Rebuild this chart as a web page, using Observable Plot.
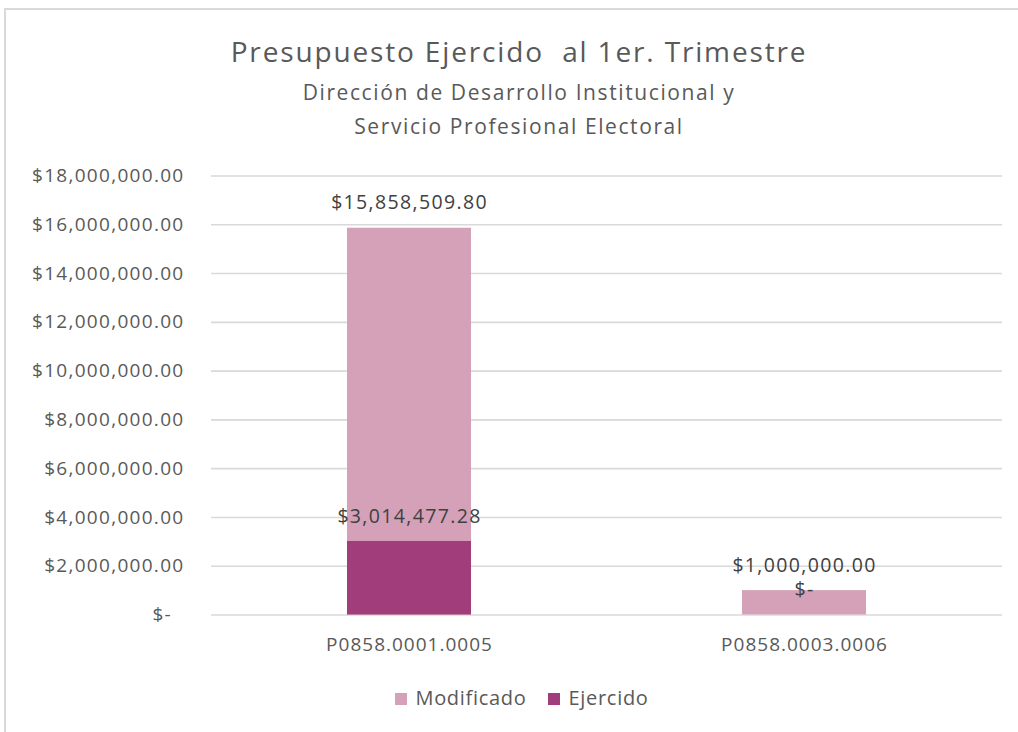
<!DOCTYPE html>
<html>
<head>
<meta charset="utf-8">
<script src="https://cdn.jsdelivr.net/npm/d3@7"></script>
<script src="https://cdn.jsdelivr.net/npm/@observablehq/plot@0.6"></script>
<style>
  html, body { margin: 0; padding: 0; background: #fff; }
  body { width: 1018px; height: 732px; position: relative; overflow: hidden; font-family: "Open Sans", Lato, sans-serif; color: #595959; }
  #frame { position: absolute; left: 4px; top: 8px; width: 1030px; height: 740px; border-left: 2px solid #D9D9D9; border-top: 2px solid #D9D9D9; }
  #chart { position: absolute; left: 0; top: 0; }
  .t { position: absolute; left: 0; width: 1038px; text-align: center; white-space: nowrap; line-height: 1; }
  #title { top: 37px; font-size: 28px; letter-spacing: 1.85px; }
  #sub1 { top: 82px; font-size: 21px; letter-spacing: 1.6px; }
  #sub2 { top: 116px; font-size: 21px; letter-spacing: 1.6px; }
  #legend { position: absolute; top: 686px; left: 0; width: 1044px; display: flex; justify-content: center; gap: 22px; font-size: 20px; line-height: 24px; letter-spacing: 0.7px; }
  #legend span.sw { display: inline-block; width: 12px; height: 12px; margin-right: 8px; vertical-align: 0px; }
  g[aria-label="y-axis tick label"] text { letter-spacing: 1.3px; }
  g[aria-label="x-axis tick label"] text { letter-spacing: 1px; }
  g[aria-label="text"] text { letter-spacing: 1.35px; }
</style>
</head>
<body>
<div id="frame"></div>
<div id="chart"></div>
<div class="t" id="title">Presupuesto Ejercido&nbsp; al 1er. Trimestre</div>
<div class="t" id="sub1">Dirección de Desarrollo Institucional y</div>
<div class="t" id="sub2">Servicio Profesional Electoral</div>
<div id="legend"></div>
<script>
const categories = ["P0858.0001.0005", "P0858.0003.0006"];
const modificado = [15858509.80, 1000000.00];
const ejercido = [3014477.28, 0];
const seriesNames = ["Modificado", "Ejercido"];
const seriesColors = ["#D4A1B8", "#A23D7C"];
const yTicks = [0, 2000000, 4000000, 6000000, 8000000, 10000000, 12000000, 14000000, 16000000, 18000000];

const rows = [];
categories.forEach((c, i) => {
  rows.push({cat: c, serie: seriesNames[0], value: modificado[i]});
  rows.push({cat: c, serie: seriesNames[1], value: ejercido[i]});
});

const money = v => v === 0 ? "$-" : "$" + d3.format(",.2f")(v);
const font = "'Open Sans', Lato, sans-serif";

const chart = Plot.plot({
  width: 1018,
  height: 732,
  marginLeft: 211,
  marginRight: 16,
  marginTop: 175.5,
  marginBottom: 117.5,
  style: {fontFamily: font, color: "#595959", background: "transparent"},
  x: {domain: categories, paddingInner: 0.6865, paddingOuter: 0.343, label: null},
  y: {domain: [0, 18000000], label: null},
  color: {domain: seriesNames, range: seriesColors},
  marks: [
    Plot.gridY(yTicks, {stroke: "#D9D9D9", strokeOpacity: 1, strokeWidth: 1.6}),
    Plot.axisY(yTicks, {tickSize: 0, tickPadding: 27, fontSize: 19, fill: "#595959",
      tickFormat: d => d === 0 ? "$-\u00a0\u00a0" : "$" + d3.format(",.2f")(d), label: null}),
    Plot.axisX({tickSize: 0, tickPadding: 22, fontSize: 19, fill: "#595959", label: null}),
    Plot.barY(rows.filter(d => d.serie === seriesNames[0]), {x: "cat", y: "value", fill: "serie"}),
    Plot.barY(rows.filter(d => d.serie === seriesNames[1]), {x: "cat", y: "value", fill: "serie"}),
    Plot.text(rows, {x: "cat", y: "value", text: d => money(d.value), dy: -25, fontSize: 19.5, fill: "#404040", lineAnchor: "middle"})
  ]
});
document.getElementById("chart").appendChild(chart);

const lg = document.getElementById("legend");
seriesNames.forEach((n, i) => {
  const it = document.createElement("div");
  it.innerHTML = `<span class="sw" style="background:${seriesColors[i]}"></span>${n}`;
  lg.appendChild(it);
});
</script>
</body>
</html>
